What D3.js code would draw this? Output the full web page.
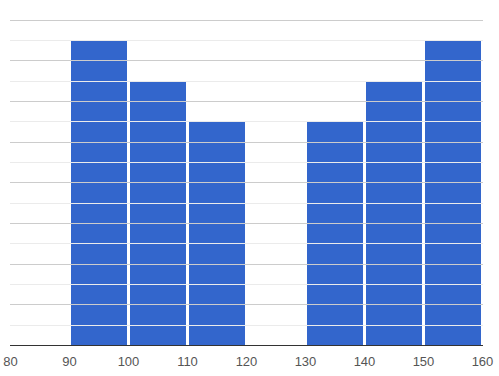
<!DOCTYPE html>
<html>
<head>
<meta charset="utf-8">
<script src="https://cdn.jsdelivr.net/npm/d3@7"></script>
<style>
  body { margin: 0; background: #fff; }
  text { font-family: Arial, "Liberation Sans", sans-serif; }
</style>
</head>
<body>
<svg id="drawing_region"></svg>
<script>
// bins (lower edge) and item counts per bin
const binStarts = [90, 100, 110, 120, 130, 140, 150];
const binCounts = [15, 13, 11, 0, 11, 13, 15];
const binWidth = 10;
const xTicks = [80, 90, 100, 110, 120, 130, 140, 150, 160];
const yMax = 16;

const width = 499, height = 376;
const margin = { top: 19.5, right: 16, bottom: 31, left: 11 };

const svg = d3.select('#drawing_region')
    .attr('width', width)
    .attr('height', height);

const xscale = d3.scaleLinear()
    .domain([80, 160])
    .range([margin.left, width - margin.right]);

const yscale = d3.scaleLinear()
    .domain([0, yMax])
    .range([height - margin.bottom, margin.top]);

// gridlines, major every 2, minor in between
const grid = d3.range(1, yMax + 1);
svg.append('g')
    .selectAll('line')
    .data(grid)
    .join('line')
    .attr('x1', xscale(80) - 1)
    .attr('x2', xscale(160))
    .attr('y1', d => Math.round(yscale(d)) + 0.5)
    .attr('y2', d => Math.round(yscale(d)) + 0.5)
    .attr('stroke', d => d % 2 === 0 ? '#cccccc' : '#ebebeb')
    .attr('stroke-width', 1);

// one block per item, stacked in each bin
const blocks = [];
binStarts.forEach((b, i) => {
    for (let k = 0; k < binCounts[i]; k++) blocks.push({ bin: b, k: k });
});

svg.append('g')
    .selectAll('rect')
    .data(blocks)
    .join('rect')
    .attr('x', d => xscale(d.bin) + 1)
    .attr('width', d => xscale(d.bin + binWidth) - xscale(d.bin) - 3)
    .attr('y', d => Math.round(yscale(d.k + 1)) + 1)
    .attr('height', d => Math.round(yscale(d.k)) - Math.round(yscale(d.k + 1)) - 1)
    .attr('fill', '#3366cc');

// baseline
svg.append('line')
    .attr('x1', xscale(80) - 1)
    .attr('x2', xscale(160))
    .attr('y1', Math.round(yscale(0)) + 0.5)
    .attr('y2', Math.round(yscale(0)) + 0.5)
    .attr('stroke', '#333333');

// x tick labels
svg.append('g')
    .selectAll('text')
    .data(xTicks)
    .join('text')
    .attr('x', d => xscale(d) - 0.5)
    .attr('y', yscale(0) + 21)
    .attr('text-anchor', 'middle')
    .attr('font-size', 13)
    .attr('fill', '#555555')
    .text(d => d);
</script>
</body>
</html>
